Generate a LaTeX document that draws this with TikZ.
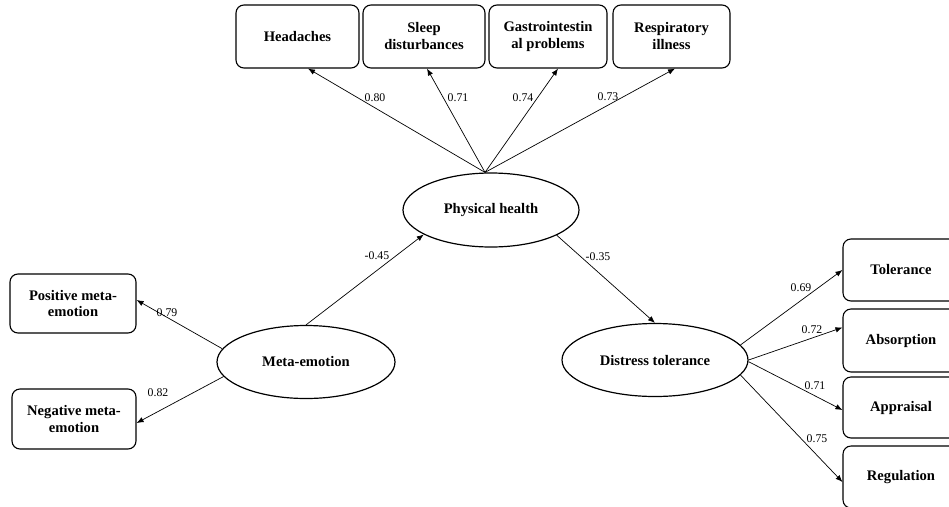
\documentclass[tikz,border=0pt]{standalone}
\usepackage{fontspec}
\setmainfont{Liberation Serif}
\usetikzlibrary{shapes.geometric,arrows.meta,calc}
\begin{document}
\begin{tikzpicture}[x=1pt,y=-1pt,
  obs/.style={draw,rounded corners=8pt,line width=1.1pt,align=center,font=\bfseries\fontsize{14.6}{17}\selectfont,inner sep=0pt},
  lat/.style={draw,ellipse,line width=1.2pt,inner sep=0pt,font=\bfseries\fontsize{14.6}{17}\selectfont},
  conn/.style={line width=0.7pt,-{Latex[length=7pt,width=5.5pt]}},
  lbl/.style={font=\fontsize{11.8}{12}\selectfont,inner sep=0pt}]
\useasboundingbox (0,0) rectangle (949,506);
\clip (0,0) rectangle (949,506);
% top indicators
\node[obs,minimum width=123pt,minimum height=63pt] (hd) at (297.5,36.5) {Headaches};
\node[obs,minimum width=122pt,minimum height=63pt] (sl) at (424,36.5) {Sleep\\disturbances};
\node[obs,minimum width=118pt,minimum height=63pt] (gi) at (548,36.5) {Gastrointestin\\al problems};
\node[obs,minimum width=117pt,minimum height=63pt] (ri) at (671.5,36.5) {Respiratory\\illness};
% latent variables
\node[lat,minimum width=176pt,minimum height=74pt] (ph) at (491,210) {Physical health};
\node[lat,minimum width=178pt,minimum height=73pt] (me) at (306,362) {Meta-emotion};
\node[lat,minimum width=186pt,minimum height=73pt] (dt) at (655,360) {Distress tolerance};
% left indicators
\node[obs,minimum width=126pt,minimum height=59pt] (pm) at (73,303.5) {Positive meta-\\emotion};
\node[obs,minimum width=124pt,minimum height=60pt] (nm) at (74,419) {Negative meta-\\emotion};
% right indicators
\node[obs,minimum width=116pt,minimum height=62pt] (to) at (901,270) {Tolerance};
\node[obs,minimum width=116pt,minimum height=63pt] (ab) at (901,340.5) {Absorption};
\node[obs,minimum width=116pt,minimum height=61pt] (ap) at (901,407.5) {Appraisal};
\node[obs,minimum width=116pt,minimum height=62pt] (rg) at (901,477) {Regulation};
% connectors
\coordinate (phtop) at ([xshift=-6pt]ph.north);
\draw[conn] (phtop) -- ([xshift=10.5pt]hd.south);
\draw[conn] (phtop) -- ([xshift=3pt]sl.south);
\draw[conn] (phtop) -- ([xshift=10pt]gi.south);
\draw[conn] (phtop) -- ([xshift=3.5pt]ri.south);
\draw[conn] (me.north) -- (ph.200);
\draw[conn] (ph.-21) -- (dt.north);
\draw[conn] (me.171) -- ([yshift=3.5pt]pm.east);
\draw[conn] (me.190) -- ([yshift=-4pt]nm.east);
\draw[conn] (dt.10) -- (to.west);
\draw[conn] (dt.east) -- ([yshift=13pt]ab.west);
\draw[conn] (dt.-1) -- ([yshift=-2.5pt]ap.west);
\draw[conn] (dt.-10) -- ([yshift=-5pt]rg.west);
% labels
\node[lbl] (l1) at (375,98) {0.80};
\node[lbl] (l2) at (458,98) {0.71};
\node[lbl] (l3) at (523,98) {0.74};
\node[lbl] (l4) at (608,97) {0.73};
\node[lbl] (l5) at (377,256) {-0.45};
\node[lbl] (l6) at (598,257) {-0.35};
\node[lbl] (l7) at (167,313) {0.79};
\node[lbl] (l8) at (158,393) {0.82};
\node[lbl] (l9) at (801,288) {0.69};
\node[lbl] (l10) at (812,330) {0.72};
\node[lbl] (l11) at (815,386) {0.71};
\node[lbl] (l12) at (817,439) {0.75};
\end{tikzpicture}
\end{document}
